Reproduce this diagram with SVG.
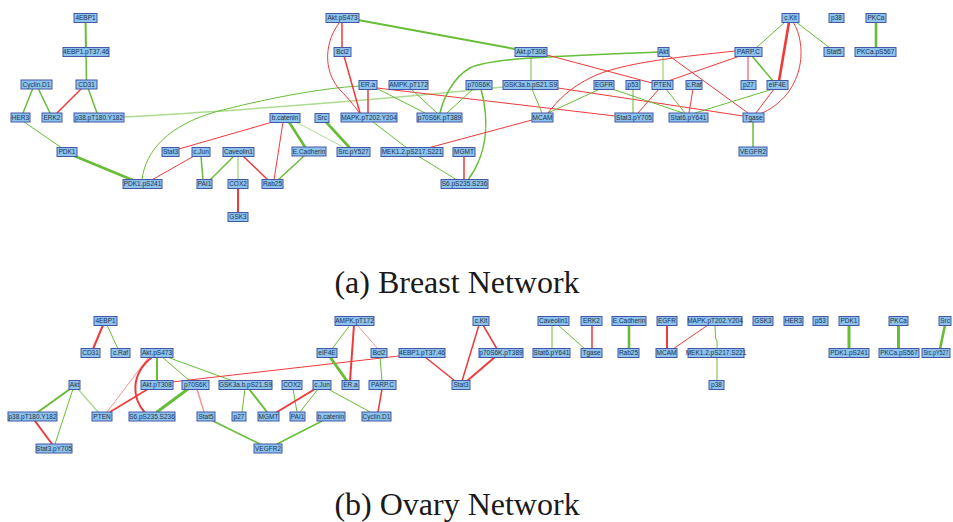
<svg xmlns="http://www.w3.org/2000/svg" width="953" height="522" viewBox="0 0 953 522">
<style>
.n rect{fill:#8cc4ee;stroke:#4656a6;stroke-width:1}
.n text{font-family:"Liberation Sans",Arial,sans-serif;font-size:6.5px;fill:#26304a;text-anchor:middle}
#edges path,#edges line{fill:none;stroke-linecap:round}
.g{stroke:#67bd36;stroke-width:1}
.r{stroke:#ee3a3a;stroke-width:1}
.w15{stroke-width:1.5}
.w2{stroke-width:2}
.w25{stroke-width:2.6}
.w3{stroke-width:3}
.lt{stroke-opacity:.55}
.title{font-family:"Liberation Serif","Times New Roman",serif;font-size:32px;fill:#1a1a1a;text-anchor:middle}
</style>
<rect width="953" height="522" fill="#fff"/>
<g id="edges">
<!-- Breast -->
<line class="g w2" x1="85.5" y1="18" x2="86" y2="52"/>
<line class="g w15" x1="86" y1="52" x2="86.5" y2="84.5"/>
<line class="g w15" x1="33" y1="88" x2="23" y2="113"/>
<line class="g w15" x1="38" y1="88" x2="50" y2="113"/>
<line class="r w15" x1="82" y1="88" x2="57" y2="113"/>
<line class="g w15" x1="88" y1="88" x2="97" y2="113"/>
<line class="g" x1="24" y1="122" x2="62" y2="148"/>
<line class="g w25" x1="72" y1="155" x2="135" y2="181"/>
<path class="g lt w15" d="M124,117 C220,112 400,98 503,87"/>
<path class="g" d="M142,180 C145,150 170,125 215,112 C260,100 320,88 360,86"/>
<line class="r" x1="194" y1="156" x2="150" y2="181"/>
<line class="g w15" x1="201" y1="156" x2="203" y2="180"/>
<line class="g w15" x1="234" y1="156" x2="210" y2="180"/>
<line class="g w15 lt" x1="238" y1="156" x2="238" y2="180"/>
<line class="r w15" x1="243" y1="156" x2="268" y2="180"/>
<line class="r w2" x1="238" y1="188" x2="238" y2="213"/>
<line class="r" x1="276" y1="121" x2="179" y2="149"/>
<line class="r" x1="283" y1="122" x2="274" y2="180"/>
<line class="g w25" x1="289" y1="122" x2="305" y2="147"/>
<line class="g lt" x1="294" y1="121" x2="345" y2="148"/>
<line class="g w15" x1="304" y1="156" x2="278" y2="180"/>
<line class="g w25" x1="326" y1="122" x2="350" y2="148"/>
<line class="g w2" x1="358" y1="20" x2="515" y2="49"/>
<line class="r w15" x1="342" y1="22" x2="342" y2="48"/>
<path class="r" d="M340,22 C325,40 322,70 340,90 C350,100 356,108 360,114"/>
<line class="r w15" x1="344" y1="56" x2="360" y2="113"/>
<line class="r w15" x1="368" y1="89" x2="368" y2="113"/>
<line class="g" x1="376" y1="88" x2="425" y2="113"/>
<line class="r" x1="377" y1="88" x2="615" y2="116"/>
<line class="g" x1="411" y1="89" x2="437" y2="113"/>
<line class="g" x1="473" y1="89" x2="447" y2="113"/>
<path class="g w15" d="M481,89 C488,115 490,150 468,180"/>
<path class="g w15" d="M658,52 C560,56 490,58 470,68 C452,78 443,100 440,113"/>
<line class="g" x1="531" y1="56" x2="531" y2="81"/>
<line class="r" x1="547" y1="55" x2="652" y2="83"/>
<line class="g" x1="532" y1="89" x2="542" y2="113"/>
<line class="r" x1="558" y1="88" x2="743" y2="116"/>
<line class="g" x1="600" y1="89" x2="548" y2="113"/>
<line class="g" x1="612" y1="89" x2="683" y2="113"/>
<path class="r" d="M735,51 C690,56 620,62 590,78 C570,88 558,100 548,113"/>
<line class="r" x1="740" y1="56" x2="668" y2="81"/>
<line class="r" x1="748" y1="56" x2="748" y2="81"/>
<line class="g w15" x1="752" y1="56" x2="773" y2="81"/>
<line class="g" x1="785" y1="22" x2="756" y2="48"/>
<line class="r w25" x1="789" y1="22" x2="779" y2="81"/>
<path class="r" d="M793,22 C808,45 805,95 760,114"/>
<line class="g" x1="796" y1="22" x2="830" y2="48"/>
<line class="g w25" x1="876" y1="22" x2="876" y2="48"/>
<line class="g lt w15" x1="663" y1="56" x2="663" y2="81"/>
<line class="r" x1="668" y1="55" x2="748" y2="113"/>
<line class="r" x1="659" y1="89" x2="638" y2="113"/>
<line class="g" x1="666" y1="89" x2="685" y2="113"/>
<line class="r" x1="693" y1="89" x2="689" y2="113"/>
<line class="g" x1="633" y1="89" x2="633" y2="113"/>
<line class="g" x1="773" y1="89" x2="695" y2="113"/>
<line class="r" x1="774" y1="89" x2="756" y2="113"/>
<line class="g w15" x1="753" y1="122" x2="753" y2="147"/>
<line class="r" x1="532" y1="120" x2="428" y2="148"/>
<line class="g" x1="373" y1="122" x2="407" y2="148"/>
<line class="g" x1="418" y1="156" x2="457" y2="180"/>
<line class="r w15" x1="464" y1="156" x2="464" y2="180"/>
<!-- Ovary -->
<line class="r w2" x1="103" y1="325" x2="93" y2="349"/>
<line class="g" x1="107" y1="325" x2="118" y2="349"/>
<line class="g w2" x1="157" y1="357" x2="157" y2="381"/>
<line class="g" x1="162" y1="357" x2="190" y2="381"/>
<line class="g" x1="167" y1="357" x2="233" y2="381"/>
<path class="r w2" d="M152,357 C130,375 132,398 145,413"/>
<line class="r lt" x1="148" y1="358" x2="107" y2="412"/>
<line class="r w15" x1="148" y1="389" x2="110" y2="412"/>
<line class="r" x1="172" y1="382" x2="399" y2="356"/>
<line class="g w3" x1="188" y1="389" x2="157" y2="412"/>
<line class="r lt w15" x1="197" y1="389" x2="204" y2="412"/>
<line class="g" x1="245" y1="389" x2="242" y2="412"/>
<line class="g w2" x1="249" y1="389" x2="267" y2="412"/>
<line class="g" x1="293" y1="389" x2="297" y2="412"/>
<line class="r w2" x1="315" y1="389" x2="277" y2="412"/>
<line class="g" x1="318" y1="389" x2="300" y2="412"/>
<line class="g" x1="328" y1="389" x2="370" y2="412"/>
<line class="g w2" x1="70" y1="389" x2="38" y2="412"/>
<line class="g" x1="73" y1="389" x2="55" y2="444"/>
<line class="g lt w15" x1="78" y1="389" x2="98" y2="412"/>
<line class="r w2" x1="35" y1="421" x2="52" y2="444"/>
<line class="g w15" x1="213" y1="421" x2="260" y2="444"/>
<line class="g w15" x1="322" y1="421" x2="277" y2="444"/>
<line class="g" x1="350" y1="325" x2="332" y2="349"/>
<line class="r w2" x1="354" y1="325" x2="350" y2="381"/>
<line class="r lt" x1="357" y1="325" x2="378" y2="349"/>
<line class="g w3" x1="330" y1="357" x2="347" y2="381"/>
<line class="g" x1="380" y1="357" x2="382" y2="381"/>
<line class="r w15" x1="382" y1="389" x2="378" y2="412"/>
<line class="r w15" x1="425" y1="357" x2="455" y2="381"/>
<line class="r w15" x1="479" y1="325" x2="462" y2="381"/>
<line class="r w15" x1="483" y1="325" x2="497" y2="349"/>
<line class="r w2" x1="495" y1="357" x2="467" y2="381"/>
<line class="g" x1="552" y1="325" x2="552" y2="349"/>
<line class="g" x1="558" y1="325" x2="585" y2="349"/>
<line class="r w15" x1="592" y1="325" x2="592" y2="349"/>
<line class="g w25" x1="629" y1="325" x2="629" y2="349"/>
<line class="r w2" x1="667" y1="325" x2="667" y2="349"/>
<line class="r" x1="708" y1="325" x2="673" y2="349"/>
<path class="g" d="M715,325 L715.5,338 L717,341 L717,349"/>
<line class="g" x1="717" y1="357" x2="717" y2="381"/>
<line class="g w3" x1="849" y1="325" x2="849" y2="349"/>
<line class="g w3" x1="898.5" y1="325" x2="898.5" y2="349"/>
<line class="g w25" x1="945" y1="325" x2="940" y2="349"/>
</g>
<g id="b_4EBP1" class="n"><rect x="74" y="13.5" width="23" height="9"/><text x="85.5" y="20.3">4EBP1</text></g>
<g id="b_4EBP1pT" class="n"><rect x="63" y="47.5" width="46" height="9"/><text x="86" y="54.3">4EBP1.pT37.46</text></g>
<g id="b_CyclinD1" class="n"><rect x="21" y="80" width="31" height="9"/><text x="36.5" y="86.8">Cyclin.D1</text></g>
<g id="b_CD31" class="n"><rect x="76" y="80" width="21" height="9"/><text x="86.5" y="86.8">CD31</text></g>
<g id="b_HER3" class="n"><rect x="11" y="113" width="19" height="9"/><text x="20.5" y="119.8">HER3</text></g>
<g id="b_ERK2" class="n"><rect x="42" y="113" width="20" height="9"/><text x="52" y="119.8">ERK2</text></g>
<g id="b_p38pT" class="n"><rect x="74" y="113" width="50" height="9"/><text x="99" y="119.8">p38.pT180.Y182</text></g>
<g id="b_PDK1" class="n"><rect x="57" y="147.5" width="20" height="9"/><text x="67" y="154.3">PDK1</text></g>
<g id="b_PDK1pS" class="n"><rect x="123" y="179.5" width="39" height="9"/><text x="142.5" y="186.3">PDK1.pS241</text></g>
<g id="b_Stat3" class="n"><rect x="162" y="147.5" width="17" height="9"/><text x="170.5" y="154.3">Stat3</text></g>
<g id="b_cJun" class="n"><rect x="192" y="147.5" width="18" height="9"/><text x="201" y="154.3">c.Jun</text></g>
<g id="b_Caveolin1" class="n"><rect x="223" y="147.5" width="31" height="9"/><text x="238.5" y="154.3">Caveolin1</text></g>
<g id="b_PAI1" class="n"><rect x="197" y="179.5" width="15" height="9"/><text x="204.5" y="186.3">PAI1</text></g>
<g id="b_COX2" class="n"><rect x="228" y="179.5" width="20" height="9"/><text x="238" y="186.3">COX2</text></g>
<g id="b_Rab25" class="n"><rect x="262" y="179.5" width="21" height="9"/><text x="272.5" y="186.3">Rab25</text></g>
<g id="b_GSK3" class="n"><rect x="228" y="212.5" width="20" height="9"/><text x="238" y="219.3">GSK3</text></g>
<g id="b_bcatenin" class="n"><rect x="270" y="113.5" width="30" height="9"/><text x="285" y="120.3">b.catenin</text></g>
<g id="b_Src" class="n"><rect x="315" y="113.5" width="14" height="9"/><text x="322" y="120.3">Src</text></g>
<g id="b_ECadherin" class="n"><rect x="292" y="147" width="34" height="9"/><text x="309" y="153.8">E.Cadherin</text></g>
<g id="b_SrcpY527" class="n"><rect x="337" y="147.5" width="33" height="9"/><text x="353.5" y="154.3">Src.pY527</text></g>
<g id="b_AktpS473" class="n"><rect x="326" y="13.5" width="33" height="9"/><text x="342.5" y="20.3">Akt.pS473</text></g>
<g id="b_Bcl2" class="n"><rect x="334" y="47.5" width="17" height="9"/><text x="342.5" y="54.3">Bcl2</text></g>
<g id="b_ERa" class="n"><rect x="359" y="80.5" width="18" height="9"/><text x="368" y="87.3">ER.a</text></g>
<g id="b_AMPK" class="n"><rect x="389" y="80.5" width="39" height="9"/><text x="408.5" y="87.3">AMPK.pT172</text></g>
<g id="b_p70S6K" class="n"><rect x="466" y="80.5" width="26" height="9"/><text x="479" y="87.3">p70S6K</text></g>
<g id="b_GSK3ab" class="n"><rect x="503" y="80.5" width="55" height="9"/><text x="530.5" y="87.3">GSK3a.b.pS21.S9</text></g>
<g id="b_EGFR" class="n"><rect x="594" y="80.5" width="20" height="9"/><text x="604" y="87.3">EGFR</text></g>
<g id="b_MAPK" class="n"><rect x="341" y="113" width="56" height="9"/><text x="369" y="119.8">MAPK.pT202.Y204</text></g>
<g id="b_p70S6KpT" class="n"><rect x="417" y="113" width="45" height="9"/><text x="439.5" y="119.8">p70S6K.pT389</text></g>
<g id="b_MCAM" class="n"><rect x="532" y="113" width="21" height="9"/><text x="542.5" y="119.8">MCAM</text></g>
<g id="b_MEK" class="n"><rect x="381" y="147.5" width="62" height="9"/><text x="412" y="154.3">MEK1.2.pS217.S221</text></g>
<g id="b_MGMT" class="n"><rect x="453" y="147.5" width="22" height="9"/><text x="464" y="154.3">MGMT</text></g>
<g id="b_S6" class="n"><rect x="441" y="179.5" width="47" height="9"/><text x="464.5" y="186.3">S6.pS235.S236</text></g>
<g id="b_AktpT308" class="n"><rect x="515" y="47.5" width="32" height="9"/><text x="531" y="54.3">Akt.pT308</text></g>
<g id="b_cKit" class="n"><rect x="782" y="13.5" width="17" height="9"/><text x="790.5" y="20.3">c.Kit</text></g>
<g id="b_p38" class="n"><rect x="829" y="13.5" width="15" height="9"/><text x="836.5" y="20.3">p38</text></g>
<g id="b_PKCa" class="n"><rect x="866" y="13.5" width="20" height="9"/><text x="876" y="20.3">PKCa</text></g>
<g id="b_Akt" class="n"><rect x="658" y="47.5" width="11" height="9"/><text x="663.5" y="54.3">Akt</text></g>
<g id="b_PARPC" class="n"><rect x="735" y="47.5" width="27" height="9"/><text x="748.5" y="54.3">PARP.C</text></g>
<g id="b_Stat5" class="n"><rect x="824" y="47.5" width="20" height="9"/><text x="834" y="54.3">Stat5</text></g>
<g id="b_PKCapS" class="n"><rect x="855" y="47.5" width="41" height="9"/><text x="875.5" y="54.3">PKCa.pS567</text></g>
<g id="b_p53" class="n"><rect x="626" y="80.5" width="14" height="9"/><text x="633" y="87.3">p53</text></g>
<g id="b_PTEN" class="n"><rect x="652" y="80.5" width="21" height="9"/><text x="662.5" y="87.3">PTEN</text></g>
<g id="b_cRaf" class="n"><rect x="686" y="80.5" width="16" height="9"/><text x="694" y="87.3">c.Raf</text></g>
<g id="b_p27" class="n"><rect x="741" y="80.5" width="15" height="9"/><text x="748.5" y="87.3">p27</text></g>
<g id="b_eIF4E" class="n"><rect x="767" y="80.5" width="21" height="9"/><text x="777.5" y="87.3">eIF4E</text></g>
<g id="b_Stat3pY" class="n"><rect x="615" y="113" width="38" height="9"/><text x="634" y="119.8">Stat3.pY705</text></g>
<g id="b_Stat6" class="n"><rect x="669" y="113" width="39" height="9"/><text x="688.5" y="119.8">Stat6.pY641</text></g>
<g id="b_Tgase" class="n"><rect x="743" y="113" width="21" height="9"/><text x="753.5" y="119.8">Tgase</text></g>
<g id="b_VEGFR2" class="n"><rect x="739" y="147" width="28" height="9"/><text x="753" y="153.8">VEGFR2</text></g>
<!-- Ovary nodes -->
<g id="o_4EBP1" class="n"><rect x="94" y="316.5" width="23" height="9"/><text x="105.5" y="323.3">4EBP1</text></g>
<g id="o_CD31" class="n"><rect x="81" y="348.5" width="19" height="9"/><text x="90.5" y="355.3">CD31</text></g>
<g id="o_cRaf" class="n"><rect x="111" y="348.5" width="19" height="9"/><text x="120.5" y="355.3">c.Raf</text></g>
<g id="o_AktpS473" class="n"><rect x="141" y="348.5" width="32" height="9"/><text x="157" y="355.3">Akt.pS473</text></g>
<g id="o_Akt" class="n"><rect x="69" y="380.5" width="11" height="9"/><text x="74.5" y="387.3">Akt</text></g>
<g id="o_AktpT308" class="n"><rect x="141" y="380.5" width="32" height="9"/><text x="157" y="387.3">Akt.pT308</text></g>
<g id="o_p70S6K" class="n"><rect x="182" y="380.5" width="27" height="9"/><text x="195.5" y="387.3">p70S6K</text></g>
<g id="o_GSK3ab" class="n"><rect x="219" y="380.5" width="53" height="9"/><text x="245.5" y="387.3">GSK3a.b.pS21.S9</text></g>
<g id="o_COX2" class="n"><rect x="282" y="380.5" width="20" height="9"/><text x="292" y="387.3">COX2</text></g>
<g id="o_cJun" class="n"><rect x="313" y="380.5" width="18" height="9"/><text x="322" y="387.3">c.Jun</text></g>
<g id="o_p38pT" class="n"><rect x="8" y="412" width="49" height="9"/><text x="32.5" y="418.8">p38.pT180.Y182</text></g>
<g id="o_PTEN" class="n"><rect x="92" y="412" width="20" height="9"/><text x="102" y="418.8">PTEN</text></g>
<g id="o_S6" class="n"><rect x="129" y="412" width="46" height="9"/><text x="152" y="418.8">S6.pS235.S236</text></g>
<g id="o_Stat5" class="n"><rect x="197" y="412" width="18" height="9"/><text x="206" y="418.8">Stat5</text></g>
<g id="o_p27" class="n"><rect x="232" y="412" width="14" height="9"/><text x="239" y="418.8">p27</text></g>
<g id="o_MGMT" class="n"><rect x="258" y="412" width="21" height="9"/><text x="268.5" y="418.8">MGMT</text></g>
<g id="o_PAI1" class="n"><rect x="290" y="412" width="15" height="9"/><text x="297.5" y="418.8">PAI1</text></g>
<g id="o_Stat3pY" class="n"><rect x="36" y="444" width="36" height="9"/><text x="54" y="450.8">Stat3.pY705</text></g>
<g id="o_VEGFR2" class="n"><rect x="254" y="444" width="28" height="9"/><text x="268" y="450.8">VEGFR2</text></g>
<g id="o_AMPK" class="n"><rect x="335" y="316.5" width="39" height="9"/><text x="354.5" y="323.3">AMPK.pT172</text></g>
<g id="o_cKit" class="n"><rect x="473" y="316.5" width="16" height="9"/><text x="481" y="323.3">c.Kit</text></g>
<g id="o_Caveolin1" class="n"><rect x="538" y="316.5" width="31" height="9"/><text x="553.5" y="323.3">Caveolin1</text></g>
<g id="o_ERK2" class="n"><rect x="581" y="316.5" width="21" height="9"/><text x="591.5" y="323.3">ERK2</text></g>
<g id="o_ECadherin" class="n"><rect x="612" y="316.5" width="34" height="9"/><text x="629" y="323.3">E.Cadherin</text></g>
<g id="o_EGFR" class="n"><rect x="657" y="316.5" width="20" height="9"/><text x="667" y="323.3">EGFR</text></g>
<g id="o_MAPK" class="n"><rect x="688" y="316.5" width="54" height="9"/><text x="715" y="323.3">MAPK.pT202.Y204</text></g>
<g id="o_GSK3" class="n"><rect x="753" y="316.5" width="20" height="9"/><text x="763" y="323.3">GSK3</text></g>
<g id="o_HER3" class="n"><rect x="784" y="316.5" width="19" height="9"/><text x="793.5" y="323.3">HER3</text></g>
<g id="o_p53" class="n"><rect x="813" y="316.5" width="15" height="9"/><text x="820.5" y="323.3">p53</text></g>
<g id="o_PDK1" class="n"><rect x="839" y="316.5" width="20" height="9"/><text x="849" y="323.3">PDK1</text></g>
<g id="o_PKCa" class="n"><rect x="889" y="316.5" width="19" height="9"/><text x="898.5" y="323.3">PKCa</text></g>
<g id="o_Src" class="n"><rect x="939" y="316.5" width="12" height="9"/><text x="945" y="323.3">Src</text></g>
<g id="o_eIF4E" class="n"><rect x="317" y="348.5" width="20" height="9"/><text x="327" y="355.3">eIF4E</text></g>
<g id="o_Bcl2" class="n"><rect x="371" y="348.5" width="16" height="9"/><text x="379" y="355.3">Bcl2</text></g>
<g id="o_4EBP1pT" class="n"><rect x="399" y="348.5" width="46" height="9"/><text x="422" y="355.3">4EBP1.pT37.46</text></g>
<g id="o_p70S6KpT" class="n"><rect x="479" y="348.5" width="44" height="9"/><text x="501" y="355.3">p70S6K.pT389</text></g>
<g id="o_Stat6" class="n"><rect x="533" y="348.5" width="37" height="9"/><text x="551.5" y="355.3">Stat6.pY641</text></g>
<g id="o_Tgase" class="n"><rect x="581" y="348.5" width="21" height="9"/><text x="591.5" y="355.3">Tgase</text></g>
<g id="o_Rab25" class="n"><rect x="618" y="348.5" width="21" height="9"/><text x="628.5" y="355.3">Rab25</text></g>
<g id="o_MCAM" class="n"><rect x="656" y="348.5" width="21" height="9"/><text x="666.5" y="355.3">MCAM</text></g>
<g id="o_MEK" class="n"><rect x="688" y="348.5" width="56" height="9"/><text x="716" y="355.3">MEK1.2.pS217.S221</text></g>
<g id="o_PDK1pS" class="n"><rect x="829" y="348.5" width="40" height="9"/><text x="849" y="355.3">PDK1.pS241</text></g>
<g id="o_PKCapS" class="n"><rect x="879" y="348.5" width="40" height="9"/><text x="899" y="355.3">PKCa.pS567</text></g>
<g id="o_SrcpY" class="n"><rect x="922" y="348.5" width="28" height="9"/><text x="936" y="355.3" textLength="25" lengthAdjust="spacingAndGlyphs">Src.pY527</text></g>
<g id="o_ERa" class="n"><rect x="342" y="380.5" width="17" height="9"/><text x="350.5" y="387.3">ER.a</text></g>
<g id="o_PARPC" class="n"><rect x="369" y="380.5" width="27" height="9"/><text x="382.5" y="387.3">PARP.C</text></g>
<g id="o_Stat3" class="n"><rect x="452" y="380.5" width="18" height="9"/><text x="461" y="387.3">Stat3</text></g>
<g id="o_p38" class="n"><rect x="709" y="380.5" width="15" height="9"/><text x="716.5" y="387.3">p38</text></g>
<g id="o_bcatenin" class="n"><rect x="317" y="412" width="28" height="9"/><text x="331" y="418.8">b.catenin</text></g>
<g id="o_CyclinD1" class="n"><rect x="362" y="412" width="29" height="9"/><text x="376.5" y="418.8">Cyclin.D1</text></g>
<text class="title" x="457" y="293">(a) Breast Network</text>
<text class="title" x="457" y="515">(b) Ovary Network</text>
</svg>
